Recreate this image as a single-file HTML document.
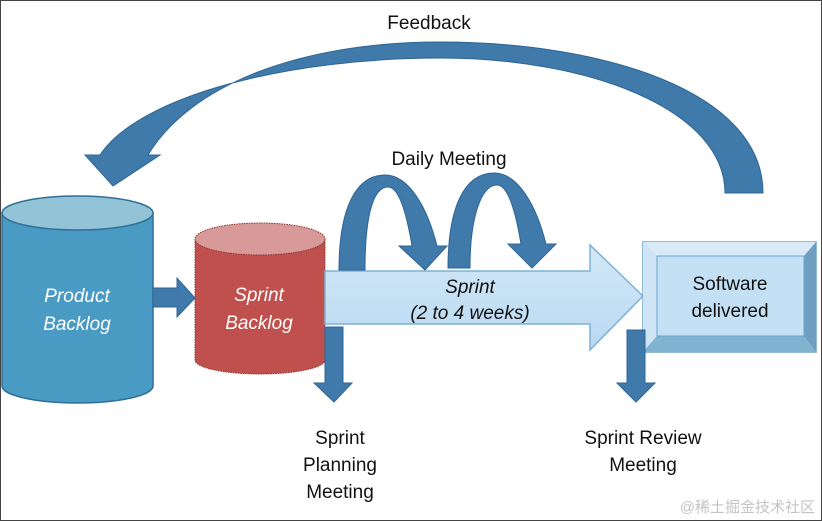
<!DOCTYPE html>
<html><head><meta charset="utf-8"><style>
html,body{margin:0;padding:0;background:#fff}
svg{display:block}
text{font-family:"Liberation Sans",sans-serif}
</style></head><body>
<svg width="822" height="521" viewBox="0 0 822 521" xmlns="http://www.w3.org/2000/svg">
<defs>
<linearGradient id="sp" x1="0" y1="0" x2="0" y2="1"><stop offset="0" stop-color="#d3e8f8"/><stop offset="1" stop-color="#b9d9f1"/></linearGradient>
</defs>
<rect x="0.5" y="0.5" width="821" height="520" fill="#fff" stroke="#444" stroke-width="1"/>
<!-- Feedback arc -->
<path d="M763,193 C763,90 600,42 440,42 C300,42 190,85 148,155 L160,155 L113,186 L85,155 L100,155 C140,95 290,58 440,58 C590,58 725,110 725,193 Z" fill="#3f7aaa" stroke="#2f6594" stroke-width="1"/>
<text x="429" y="29" font-size="19" text-anchor="middle" fill="#111">Feedback</text>
<text x="449" y="165" font-size="19" text-anchor="middle" fill="#111">Daily Meeting</text>
<!-- Product backlog -->
<path d="M2,213 L2,386 A75.5,17 0 0 0 153,386 L153,213 Z" fill="#4a9bc4" stroke="#2f6f97" stroke-width="1.5"/>
<ellipse cx="77.5" cy="213" rx="75.5" ry="17" fill="#93c3d6" stroke="#2f6f97" stroke-width="1.5"/>
<text x="77" y="302" font-size="19" font-style="italic" text-anchor="middle" fill="#fff">Product</text>
<text x="77" y="330" font-size="19" font-style="italic" text-anchor="middle" fill="#fff">Backlog</text>
<!-- arrow PB->SB -->
<path d="M153,288 L177,288 L177,278 L195,298 L177,317 L177,307 L153,307 Z" fill="#3f7aaa" stroke="#2f6594"/>
<!-- Sprint backlog -->
<path d="M195,239 L195,360 A65,14 0 0 0 325,360 L325,239 Z" fill="#c0504d" stroke="#8c3331" stroke-width="1" stroke-dasharray="1.5 1"/>
<ellipse cx="260" cy="239" rx="65" ry="16" fill="#d79a98" stroke="#8c3331" stroke-width="1" stroke-dasharray="1.5 1"/>
<text x="259" y="301" font-size="19" font-style="italic" text-anchor="middle" fill="#fff">Sprint</text>
<text x="259" y="329" font-size="19" font-style="italic" text-anchor="middle" fill="#fff">Backlog</text>
<!-- Sprint arrow -->
<path d="M325,271 L590,271 L590,245 L643,296 L590,350 L590,324 L325,324 Z" fill="url(#sp)" stroke="#7fb2d5" stroke-width="1.5"/>
<text x="470" y="293" font-size="19" font-style="italic" text-anchor="middle" fill="#111">Sprint</text>
<text x="470" y="319" font-size="19" font-style="italic" text-anchor="middle" fill="#111">(2 to 4 weeks)</text>
<!-- daily loops -->
<path d="M339,270 C339,210 355,175 385,175 C410,175 428,210 437,246 L447,246 L425,270 L399,246 L412,246 C406,210 398,187 388,187 C372,187 365,220 365,270 Z" fill="#3f7aaa" stroke="#2f6594"/>
<path d="M448,268 C448,208 464,173 494,173 C519,173 537,208 546,244 L556,244 L532,268 L508,244 L521,244 C515,208 507,185 497,185 C481,185 470,218 470,268 Z" fill="#3f7aaa" stroke="#2f6594"/>
<!-- software delivered -->
<rect x="643" y="242" width="173" height="110" fill="#b3d4ec" stroke="#6fa6c8" stroke-width="1.5"/>
<path d="M643,242 L816,242 L804,256 L657,256 Z" fill="#d8eaf7"/>
<path d="M643,242 L657,256 L657,336 L643,352 Z" fill="#cfe4f4"/>
<path d="M816,242 L816,352 L804,336 L804,256 Z" fill="#6f9fc0"/>
<path d="M643,352 L816,352 L804,336 L657,336 Z" fill="#7fb4d1"/>
<rect x="657" y="256" width="147" height="80" fill="#c4e0f5" stroke="#6fa6c8" stroke-width="1"/>
<text x="730" y="290" font-size="19" text-anchor="middle" fill="#111">Software</text>
<text x="730" y="317" font-size="19" text-anchor="middle" fill="#111">delivered</text>
<!-- down arrows -->
<path d="M325,327 L343,327 L343,383 L352,383 L334,402 L314,383 L325,383 Z" fill="#3f7aaa" stroke="#2f6594"/>
<path d="M627,330 L645,330 L645,383 L655,383 L636,402 L617,383 L627,383 Z" fill="#3f7aaa" stroke="#2f6594"/>
<text x="340" y="444" font-size="19" text-anchor="middle" fill="#111">Sprint</text>
<text x="340" y="471" font-size="19" text-anchor="middle" fill="#111">Planning</text>
<text x="340" y="498" font-size="19" text-anchor="middle" fill="#111">Meeting</text>
<text x="643" y="444" font-size="19" text-anchor="middle" fill="#111">Sprint Review</text>
<text x="643" y="471" font-size="19" text-anchor="middle" fill="#111">Meeting</text>
<text x="815" y="512" font-size="15" text-anchor="end" fill="#c4c4c4" style='font-family:"Liberation Sans","Noto Sans CJK SC",sans-serif'>@稀土掘金技术社区</text>
</svg>
</body></html>
